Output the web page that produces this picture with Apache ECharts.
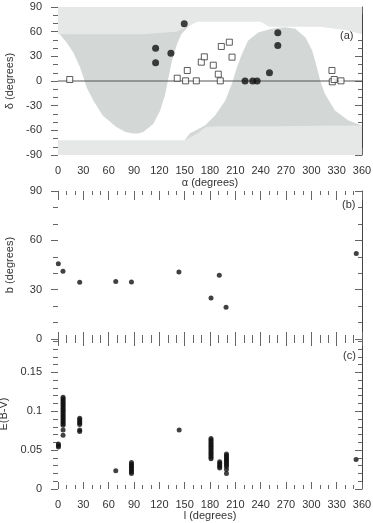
<!DOCTYPE html>
<html>
<head>
<meta charset="utf-8">
<script src="https://cdn.jsdelivr.net/npm/echarts@6/dist/echarts.min.js"></script>
<style>
html, body { margin: 0; padding: 0; background: #fff; }
#chart { width: 373px; height: 523px; }
</style>
</head>
<body>
<div id="chart"></div>
<script>
// panel (a): filled circles and open squares, alpha / delta in degrees
const circleAlpha = [115.6, 115.6, 133.7, 149.5, 221.5, 230.6, 235.8, 250.4, 260.3, 260.3];
const circleDelta = [39.9, 22.1, 33.8, 69.6, 0, 0, 0, 10, 58.6, 43.2];
const squareAlpha = [13.9, 141.2, 151.1, 153.1, 163.8, 169.7, 173.3, 183.9, 189.8, 192.2, 193.4, 202.9, 206.1, 324.4, 324.8, 327.1, 335.1];
const squareDelta = [1.8, 3.4, 0.2, 12.8, 0.2, 22.9, 29.4, 19.2, 8.3, 0.2, 42, 47.2, 29, 12.8, -1, 1.8, 0.2];

// grey sky region of panel (a), edges
const lobeAAlpha = [0, 2, 10, 18, 26, 34, 42, 53, 69, 80, 89, 95, 101, 113, 121, 127, 131, 135, 141, 146, 156, 160];
const lobeADelta = [60, 57, 47, 35, 17, -8, -24, -42, -56, -62, -64, -64, -62, -52, -36, -16, 5, 25, 45, 57, 68, 74];
const lobeBAlpha = [150, 156, 174, 186, 198, 206, 212, 218, 225, 237, 253, 269, 281, 293, 301, 306.5, 310.4, 316, 328, 344, 360];
const lobeBDelta = [-72, -64, -54, -42, -24, -3, 17, 33, 49, 59, 63.5, 65.4, 63.5, 53, 37, 17, 0.6, -15.6, -36, -48, -54];
// sparse (dotted) parts near the poles
const polarTopAlpha = [0, 100, 140, 155, 165, 240, 250, 290, 310, 340, 360];
const polarTopDelta = [57, 57, 60, 67, 72, 72, 66, 66, 66, 62, 57];
const polarBotAlpha = [0, 150, 165, 175, 190, 260, 330, 360];
const polarBotDelta = [-72, -72, -64, -56, -55, -55, -54, -54];

// panel (b): galactic l / b
const bL = [0.4, 5.9, 25.7, 68.4, 87, 143.2, 181.2, 191, 199, 353.2];
const bB = [45.7, 41.2, 34.5, 34.9, 34.7, 40.8, 25, 38.8, 19.3, 52];

// panel (c): E(B-V) values per longitude
const eL = [0.5, 6, 25.7, 68.4, 87, 143.5, 181.2, 191.5, 199.5, 353];
const eValues = [
  [0.058, 0.056, 0.054],
  [0.118, 0.116, 0.114, 0.112, 0.110, 0.108, 0.106, 0.104, 0.102, 0.100, 0.098, 0.096, 0.094, 0.092, 0.090, 0.088, 0.086, 0.084, 0.082, 0.076, 0.069],
  [0.091, 0.089, 0.087, 0.085, 0.083, 0.076, 0.074],
  [0.0235],
  [0.034, 0.032, 0.030, 0.028, 0.026, 0.024, 0.022, 0.020],
  [0.076],
  [0.065, 0.063, 0.061, 0.059, 0.057, 0.055, 0.053, 0.051, 0.049, 0.047, 0.045, 0.043, 0.041, 0.039],
  [0.035, 0.033, 0.031, 0.029, 0.027],
  [0.045, 0.043, 0.041, 0.039, 0.037, 0.035, 0.033, 0.031, 0.029, 0.025, 0.020],
  [0.038]
];

const FONT = 'Liberation Sans, Arial, sans-serif';
const TXT = '#333';
const TICK = '#666';
const LINE = '#444';
const GREY = '#d3d7d5';
const GREY_LIGHT = '#e6e8e7';

function pairs(xs, ys) {
  return xs.map(function (x, i) { return [x, ys[i]]; });
}

function xAxisPair(grid, opts) {
  const base = { gridIndex: grid, type: 'value', min: 0, max: 360, interval: 30, splitLine: { show: false } };
  const bottom = Object.assign({}, base, {
    position: 'bottom',
    axisLine: { show: false, onZero: false },
    axisTick: { inside: true, length: 7, lineStyle: { color: TICK } },
    minorTick: { show: true, splitNumber: 3, length: 4, lineStyle: { color: TICK } },
    axisLabel: { show: !!opts.labels, margin: 10, color: TXT, fontSize: 11, fontFamily: FONT },
    name: opts.name || '', nameLocation: 'middle', nameGap: opts.nameGap || 20,
    nameTextStyle: { color: TXT, fontSize: 11, fontFamily: FONT }
  });
  const top = Object.assign({}, base, {
    position: 'top',
    axisLine: { show: !!opts.topLine, onZero: false, lineStyle: { color: LINE, width: 1 } },
    axisTick: { inside: true, length: opts.topTick || 7, lineStyle: { color: TICK } },
    minorTick: { show: true, splitNumber: 3, length: 4, lineStyle: { color: TICK } },
    axisLabel: { show: false }
  });
  return [bottom, top];
}

function yAxisPair(grid, opts) {
  const base = { gridIndex: grid, type: 'value', min: opts.min, max: opts.max, interval: opts.interval, splitLine: { show: false } };
  const left = Object.assign({}, base, {
    position: 'left',
    axisLine: { show: false, onZero: false },
    axisTick: { inside: false, length: 7, lineStyle: { color: TICK } },
    minorTick: { show: true, splitNumber: opts.minor, length: 5, lineStyle: { color: TICK } },
    axisLabel: { margin: 16, color: TXT, fontSize: 11, fontFamily: FONT, showMaxLabel: opts.showMax !== false },
    name: opts.name, nameLocation: 'middle', nameGap: opts.nameGap,
    nameTextStyle: { color: TXT, fontSize: 11, fontFamily: FONT }
  });
  const right = Object.assign({}, base, {
    position: 'right',
    axisLine: { show: true, onZero: false, lineStyle: { color: LINE, width: 1 } },
    axisTick: { inside: true, length: 7, lineStyle: { color: TICK } },
    minorTick: { show: true, splitNumber: opts.minor, length: 4, lineStyle: { color: TICK } },
    axisLabel: { show: false }
  });
  return [left, right];
}

function area(data, color, origin) {
  return {
    type: 'line', xAxisIndex: 0, yAxisIndex: 0, data: data, silent: true, z: 1,
    showSymbol: false, symbol: 'none', lineStyle: { width: 0 },
    areaStyle: { color: color, opacity: 1, origin: origin }
  };
}

const eData = [];
eL.forEach(function (l, i) {
  eValues[i].forEach(function (v) { eData.push([l, v]); });
});

const chart = echarts.init(document.getElementById('chart'), null, { renderer: 'canvas' });

const option = {
  animation: false,
  backgroundColor: '#fff',
  grid: [
    { left: 58, right: 11, top: 7, height: 148, outerBoundsMode: 'none' },
    { left: 58, right: 11, top: 191, height: 148, outerBoundsMode: 'none' },
    { left: 58, right: 11, top: 339, height: 150, outerBoundsMode: 'none' }
  ],
  xAxis: [].concat(
    xAxisPair(0, { labels: true, topLine: true, name: 'α (degrees)', nameGap: 22 }),
    xAxisPair(1, { topTick: 9 }),
    xAxisPair(2, { labels: true, name: 'l (degrees)', nameGap: 20 })
  ),
  yAxis: [].concat(
    yAxisPair(0, { min: -90, max: 90, interval: 30, minor: 3, name: 'δ (degrees)', nameGap: 43 }),
    yAxisPair(1, { min: 0, max: 90, interval: 30, minor: 3, name: 'b (degrees)', nameGap: 43 }),
    yAxisPair(2, { min: 0, max: 0.193, interval: 0.05, minor: 5, name: 'E(B-V)', nameGap: 43, showMax: false })
  ),
  graphic: [
    { type: 'text', left: 340, top: 30, style: { text: '(a)', fill: TXT, font: '11px ' + FONT } },
    { type: 'text', left: 342, top: 199, style: { text: '(b)', fill: TXT, font: '11px ' + FONT } },
    { type: 'text', left: 343, top: 350, style: { text: '(c)', fill: TXT, font: '11px ' + FONT } }
  ],
  series: [
    area(pairs(lobeAAlpha, lobeADelta), GREY, 'end'),
    area(pairs(lobeBAlpha, lobeBDelta), GREY, 'start'),
    area(pairs(polarTopAlpha, polarTopDelta), GREY_LIGHT, 'end'),
    area(pairs(polarBotAlpha, polarBotDelta), GREY_LIGHT, 'start'),
    {
      type: 'line', xAxisIndex: 0, yAxisIndex: 0, data: [[0, 0], [360, 0]], silent: true, z: 2,
      symbol: 'none', lineStyle: { color: '#555', width: 1 }
    },
    {
      type: 'scatter', xAxisIndex: 0, yAxisIndex: 0, data: pairs(circleAlpha, circleDelta), z: 5,
      symbol: 'circle', symbolSize: 7, itemStyle: { color: '#111' }
    },
    {
      type: 'scatter', xAxisIndex: 0, yAxisIndex: 0, data: pairs(squareAlpha, squareDelta), z: 5,
      symbol: 'rect', symbolSize: 6, itemStyle: { color: '#fff', borderColor: '#333', borderWidth: 1 }
    },
    {
      type: 'scatter', xAxisIndex: 2, yAxisIndex: 2, data: pairs(bL, bB),
      symbol: 'circle', symbolSize: 5, itemStyle: { color: '#111' }
    },
    {
      type: 'scatter', xAxisIndex: 4, yAxisIndex: 4, data: eData,
      symbol: 'circle', symbolSize: 5, itemStyle: { color: '#111' }
    }
  ]
};

chart.setOption(option);
</script>
</body>
</html>
